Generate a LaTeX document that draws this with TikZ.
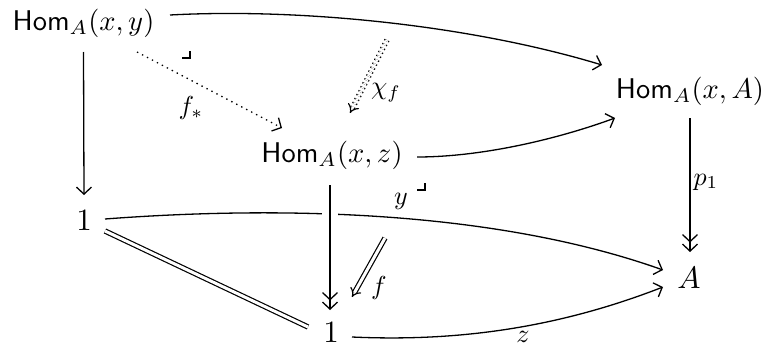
\documentclass[tikz,border=0pt]{standalone}
\usepackage{graphicx}
\usetikzlibrary{arrows.meta}
\newcommand{\objm}[1]{\scalebox{2.85}{$#1$}}
\newcommand{\onem}[1]{\scalebox{3.1}{$#1$}}
\newcommand{\labm}[1]{\scalebox{2.6}{$#1$}}
\begin{document}
\begin{tikzpicture}[x=1pt,y=-1pt,
  obj/.style={inner sep=0pt, outer sep=0pt, anchor=base},
  lab/.style={inner sep=0pt},
  arr/.style={line width=1.3pt, -{Straight Barb[length=7pt,width=15pt,line width=1.3pt]}},
  epi/.style={line width=1.3pt, -{Straight Barb[length=7pt,width=15pt,line width=1.3pt,sep=1pt] Straight Barb[length=7pt,width=15pt,line width=1.3pt]}},
  dotarr/.style={arr, dash pattern=on 1.4pt off 4.2pt},
  eqline/.style={double, double distance=3pt, line width=1.2pt},
  twocell/.style={double, double distance=3pt, line width=1.2pt, -{Implies}},
  dottwocell/.style={twocell, dash pattern=on 1.4pt off 3pt},
  corner/.style={line width=1.3pt},
  crossing/.style={preaction={draw=white, line width=16pt, -}}]
\useasboundingbox (0,0) rectangle (766,348);
% objects
\node[obj] (hxy) at (83.5,30) {\objm{\mathsf{Hom}_A(x,y)}};
\node[obj] (hxz) at (332,162) {\objm{\mathsf{Hom}_A(x,z)}};
\node[obj] (hxA) at (690,98) {\objm{\mathsf{Hom}_A(x,A)}};
\node[obj] (one1) at (84,230) {\onem{1}};
\node[obj] (one2) at (331,342) {\onem{1}};
\node[obj] (A) at (689,288) {\onem{A}};
% top curve
\draw[arr] ([shift={(86.5,-15)}]hxy.base) .. controls (300,8) and (470,25) .. ([shift={(-88,-33)}]hxA.base);
% left vertical
\draw[arr] ([shift={(0,22)}]hxy.base) -- ([shift={(0,-35)}]one1.base);
% dotted f_*
\draw[dotarr] ([shift={(53.5,22)}]hxy.base) -- ([shift={(-50,-34)}]hxz.base);
\node[lab] (lfs) at (191,108) {\labm{f_*}};
% chi_f two-cell
\coordinate (chis) at (387,40);
\coordinate (chie) at (350,113);
\draw[dottwocell] (chis) -- (chie);
\node[lab] (lchi) at (386,93) {\labm{\chi_f}};
% hxz -> hxA
\draw[arr] ([shift={(85,-5)}]hxz.base) .. controls (480,157) and (555,140) .. ([shift={(-75,20)}]hxA.base);
% p1
\draw[epi] ([shift={(0,20)}]hxA.base) -- ([shift={(1,-36)}]A.base);
\node[lab] (lp1) at (706,182) {\labm{p_1}};
% y : 1 -> A
\draw[arr] ([shift={(21,-11)}]one1.base) .. controls (250,208) and (480,205) .. ([shift={(-26,-18)}]A.base);
\node[lab] (ly) at (401,201) {\labm{y}};
% hxz ->> 1
\draw[epi, crossing] ([shift={(-2,23)}]hxz.base) -- ([shift={(-1,-32)}]one2.base);
% equality
\draw[eqline] ([shift={(21,1)}]one1.base) -- ([shift={(-23,-15)}]one2.base);
% z : 1 -> A
\draw[arr] ([shift={(21,-5)}]one2.base) .. controls (460,342) and (560,327) .. ([shift={(-26,-1)}]A.base);
\node[lab] (lz) at (523,337) {\labm{z}};
% f two-cell
\coordinate (fs) at (385,238);
\coordinate (fe) at (352,297);
\draw[twocell] (fs) -- (fe);
\node[lab] (lf) at (379,288) {\labm{f}};
% pullback corners
\draw[corner] (182,58) -- (190,58) -- (190,51);
\draw[corner] (417,190) -- (425,190) -- (425,183);
\end{tikzpicture}
\end{document}
